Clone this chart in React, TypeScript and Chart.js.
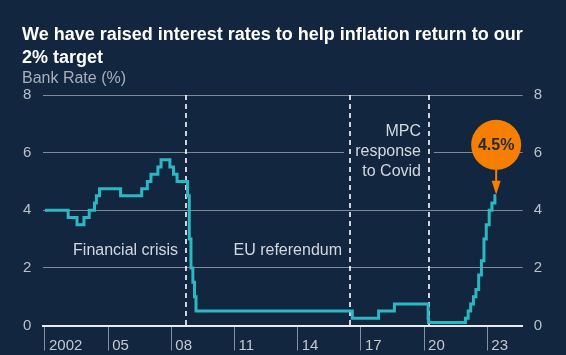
import React, { useEffect, useRef } from 'react';
import { Chart, registerables } from 'chart.js';

Chart.register(...registerables);

// ---- Data ----
const titleLines = ['We have raised interest rates to help inflation return to our', '2% target'];
const axisTitle = 'Bank Rate (%)';

// Dates (decimal years) at which Bank Rate changed, with the new rate
const changeDates = [
  2002.0, 2003.1, 2003.52, 2003.85, 2004.1, 2004.35, 2004.44, 2004.59, 2005.59, 2006.59,
  2006.86, 2007.03, 2007.36, 2007.51, 2007.93, 2008.1, 2008.27, 2008.77, 2008.85, 2008.93,
  2009.02, 2009.1, 2009.17, 2016.59, 2017.84, 2018.59, 2020.19, 2020.21, 2021.96, 2022.09,
  2022.21, 2022.34, 2022.46, 2022.59, 2022.72, 2022.84, 2022.95, 2023.09, 2023.22, 2023.36,
  2023.42,
];
const bankRate = [
  4.0, 3.75, 3.5, 3.75, 4.0, 4.25, 4.5, 4.75, 4.5, 4.75,
  5.0, 5.25, 5.5, 5.75, 5.5, 5.25, 5.0, 4.5, 3.0, 2.0,
  1.5, 1.0, 0.5, 0.25, 0.5, 0.75, 0.25, 0.1, 0.25, 0.5,
  0.75, 1.0, 1.25, 1.75, 2.25, 3.0, 3.5, 4.0, 4.25, 4.5,
  4.5,
];

const yearTicks = [2002, 2005, 2008, 2011, 2014, 2017, 2020, 2023];
const yearLabels = ['2002', '05', '08', '11', '14', '17', '20', '23'];
const valueTicks = [0, 2, 4, 6, 8];

const eventDates = [2008.71, 2016.48, 2020.22];
const eventLabels = [['Financial crisis'], ['EU referendum'], ['MPC', 'response', 'to Covid']];
const eventLabelLevels = [2.6, 2.6, 6.05];
const latestLabel = '4.5%';

// ---- Styles ----
const BG = '#13263f';
const TEAL = '#2cb8c2';
const ORANGE = '#f77f00';
const GRID = '#7f8a99';
const FONT = '"Liberation Sans", Arial, Helvetica, sans-serif';

const decorPlugin = {
  id: 'decor',
  beforeDraw(chart: any) {
    const { ctx, width, height } = chart;
    ctx.save();
    ctx.fillStyle = BG;
    ctx.fillRect(0, 0, width, height);
    ctx.restore();
  },
  beforeDatasetsDraw(chart: any) {
    const { ctx, chartArea, scales } = chart;
    const x = scales.x;
    const y = scales.y;
    ctx.save();
    // gap in gridline behind the Covid label
    const y6 = y.getPixelForValue(6);
    const gx0 = x.getPixelForValue(eventDates[1]) - 6;
    const gx1 = x.getPixelForValue(eventDates[2]) + 5;
    ctx.fillStyle = BG;
    ctx.fillRect(gx0, y6 - 3, gx1 - gx0, 6);

    // dashed event lines
    ctx.strokeStyle = '#ffffff';
    ctx.lineWidth = 1.6;
    ctx.setLineDash([5, 4]);
    eventDates.forEach((d) => {
      const px = Math.round(x.getPixelForValue(d));
      ctx.beginPath();
      ctx.moveTo(px, chartArea.top);
      ctx.lineTo(px, chartArea.bottom);
      ctx.stroke();
    });
    ctx.setLineDash([]);

    // event labels
    ctx.font = `16px ${FONT}`;
    ctx.fillStyle = '#d3d8df';
    ctx.textAlign = 'right';
    ctx.textBaseline = 'middle';
    eventDates.forEach((d, i) => {
      const px = Math.round(x.getPixelForValue(d));
      const lines = eventLabels[i];
      const cy = y.getPixelForValue(eventLabelLevels[i]);
      const lh = 20;
      const start = cy - ((lines.length - 1) * lh) / 2;
      lines.forEach((t, j) => ctx.fillText(t, px - 8, start + j * lh));
    });
    ctx.restore();
  },
  afterDatasetsDraw(chart: any) {
    const { ctx } = chart;
    const meta = chart.getDatasetMeta(0);
    const last = meta.data[meta.data.length - 1];
    const px = last.x;
    const py = last.y;
    const r = 25;
    const cy = py - 51;
    ctx.save();
    // arrow
    ctx.strokeStyle = ORANGE;
    ctx.fillStyle = ORANGE;
    ctx.lineWidth = 2;
    const tipY = py - 1;
    ctx.beginPath();
    ctx.moveTo(px, cy + r - 1);
    ctx.lineTo(px, tipY - 12);
    ctx.stroke();
    ctx.beginPath();
    ctx.moveTo(px - 4.5, tipY - 14);
    ctx.lineTo(px + 4.5, tipY - 14);
    ctx.lineTo(px, tipY);
    ctx.closePath();
    ctx.fill();
    // circle
    ctx.beginPath();
    ctx.arc(px, cy, r, 0, Math.PI * 2);
    ctx.fill();
    ctx.fillStyle = '#1f2a3c';
    ctx.font = `bold 16px ${FONT}`;
    ctx.textAlign = 'center';
    ctx.textBaseline = 'middle';
    ctx.fillText(latestLabel, px, cy + 1);
    ctx.restore();
  },
  afterDraw(chart: any) {
    const { ctx } = chart;
    ctx.save();
    ctx.textAlign = 'left';
    ctx.textBaseline = 'alphabetic';
    ctx.fillStyle = '#ffffff';
    ctx.font = `bold 18px ${FONT}`;
    titleLines.forEach((t, i) => ctx.fillText(t, 22, 40 + i * 23));
    ctx.fillStyle = '#a7b0bc';
    ctx.font = `16px ${FONT}`;
    ctx.fillText(axisTitle, 22, 83);
    ctx.restore();
  },
};

export default function App() {
  const ref = useRef<HTMLCanvasElement | null>(null);

  useEffect(() => {
    document.body.style.margin = '0';
    document.body.style.background = BG;
    const canvas = ref.current;
    if (!canvas) return;
    const chart = new Chart(canvas, {
      type: 'line',
      data: {
        datasets: [
          {
            data: changeDates.map((d, i) => ({ x: d, y: bankRate[i] })),
            stepped: 'before',
            borderColor: TEAL,
            borderWidth: 3,
            pointRadius: 0,
            fill: false,
            borderJoinStyle: 'miter',
            xAxisID: 'x',
            yAxisID: 'y',
          },
        ],
      },
      options: {
        responsive: false,
        maintainAspectRatio: false,
        animation: false,
        events: [],
        layout: { padding: { top: 95, left: 0, right: 0, bottom: 0 } },
        plugins: {
          legend: { display: false },
          tooltip: { enabled: false },
          title: { display: false },
        },
        scales: {
          x: {
            type: 'linear',
            min: 2001.92,
            max: 2024.68,
            afterBuildTicks: (s: any) => {
              s.ticks = yearTicks.map((v) => ({ value: v }));
            },
            afterFit: (s: any) => {
              s.height = 29.5;
            },
            ticks: {
              autoSkip: false,
              maxRotation: 0,
              minRotation: 0,
              align: 'start',
              labelOffset: 4,
              padding: -14,
              color: '#c3c9d1',
              font: { family: FONT, size: 15 },
              callback: (v: any) => {
                const i = yearTicks.indexOf(Number(v));
                return i >= 0 ? yearLabels[i] : '';
              },
            },
            grid: {
              drawOnChartArea: false,
              drawTicks: true,
              tickLength: 25,
              color: '#8591a0',
              lineWidth: 1,
            },
            border: { display: true, color: '#e8ebef', width: 2 },
          },
          y: {
            type: 'linear',
            position: 'left',
            min: 0,
            max: 8,
            afterBuildTicks: (s: any) => {
              s.ticks = valueTicks.map((v) => ({ value: v }));
            },
            afterFit: (s: any) => {
              s.width = 43.3;
            },
            ticks: {
              padding: 12,
              color: '#b9c1cb',
              font: { family: FONT, size: 15 },
            },
            grid: { color: GRID, lineWidth: 1, drawTicks: false },
            border: { display: false },
          },
          y2: {
            type: 'linear',
            position: 'right',
            min: 0,
            max: 8,
            afterBuildTicks: (s: any) => {
              s.ticks = valueTicks.map((v) => ({ value: v }));
            },
            afterFit: (s: any) => {
              s.width = 43.3;
            },
            ticks: {
              padding: 11,
              color: '#b9c1cb',
              font: { family: FONT, size: 15 },
            },
            grid: { display: false, drawTicks: false },
            border: { display: false },
          },
        },
      } as any,
      plugins: [decorPlugin],
    });
    return () => chart.destroy();
  }, []);

  return (
    <div style={{ width: 566, height: 355, background: BG }}>
      <canvas ref={ref} width={566} height={355} style={{ display: 'block', width: 566, height: 355 }} />
    </div>
  );
}
